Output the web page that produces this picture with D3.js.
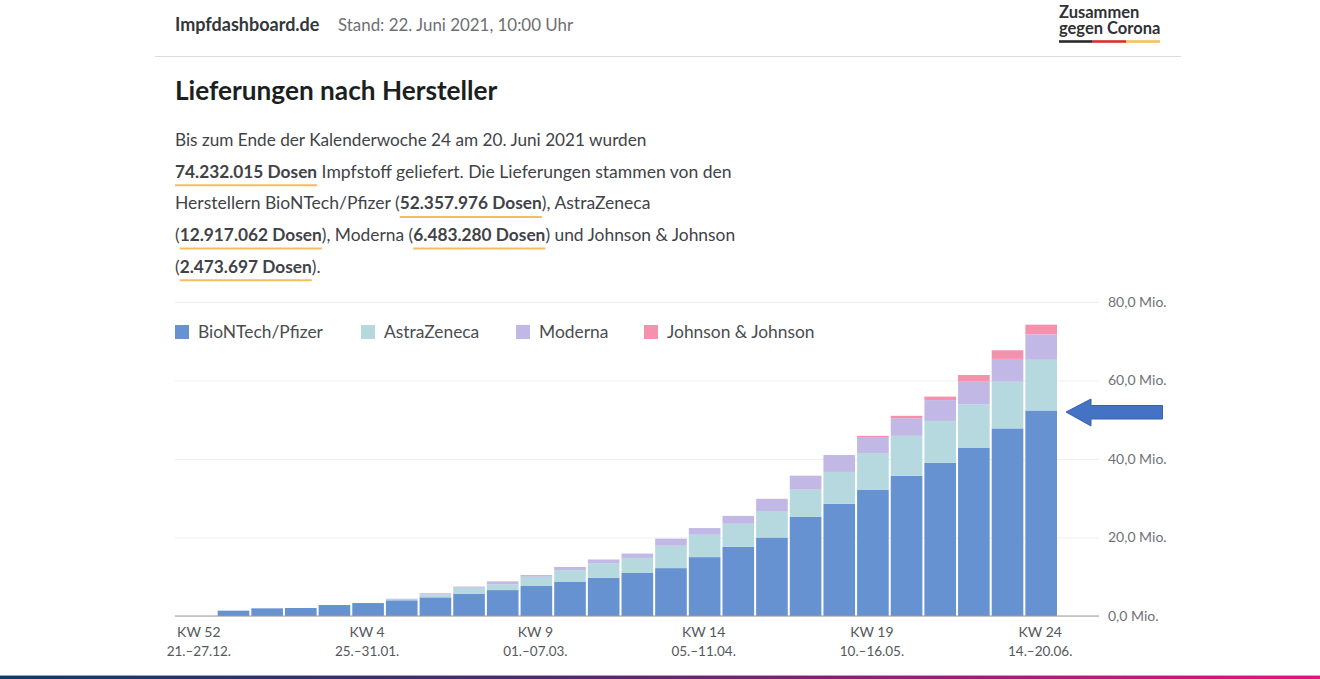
<!DOCTYPE html>
<html lang="de">
<head>
<meta charset="utf-8">
<script src="https://cdn.jsdelivr.net/npm/d3@7"></script>
<style>
  html, body { margin: 0; padding: 0; background: #fff; }
  svg { display: block; font-family: Lato, "Noto Sans", sans-serif; }
</style>
</head>
<body>
<div id="chart"></div>
<script>
// calendar weeks, KW 52 (2020) to KW 24 (2021)
const weeks = ['KW 52', 'KW 53', 'KW 1', 'KW 2', 'KW 3', 'KW 4', 'KW 5', 'KW 6', 'KW 7', 'KW 8', 'KW 9', 'KW 10', 'KW 11',
  'KW 12', 'KW 13', 'KW 14', 'KW 15', 'KW 16', 'KW 17', 'KW 18', 'KW 19', 'KW 20', 'KW 21', 'KW 22', 'KW 23', 'KW 24'];
const weekLabels = ['KW 52', 'KW 4', 'KW 9', 'KW 14', 'KW 19', 'KW 24'];
const dateLabels = ['21.–27.12.', '25.–31.01.', '01.–07.03.', '05.–11.04.', '10.–16.05.', '14.–20.06.'];

// cumulative doses per manufacturer in Mio.
const biontech = [0, 1.36, 1.95, 2.04, 2.8, 3.3, 4.0, 4.75, 5.7, 6.6, 7.64, 8.66, 9.77, 10.96, 12.2, 15.0, 17.6, 20.0, 25.3, 28.6, 32.1, 35.7, 39.0, 42.9, 47.8, 52.36];
const astra = [0, 0, 0, 0, 0, 0, 0.15, 0.75, 1.5, 1.47, 2.36, 3.04, 3.63, 3.84, 5.7, 5.7, 5.9, 6.75, 6.9, 8.1, 9.4, 10.2, 10.7, 11.0, 11.9, 12.92];
const moderna = [0, 0, 0, 0, 0, 0, 0.25, 0.3, 0.3, 0.76, 0.45, 0.8, 1.0, 1.1, 1.8, 1.7, 2.0, 3.05, 3.5, 4.1, 4.1, 4.5, 5.3, 5.8, 5.8, 6.48];
const johnson = [0, 0, 0, 0, 0, 0, 0, 0, 0, 0, 0, 0, 0, 0, 0, 0, 0, 0.05, 0.05, 0.2, 0.3, 0.6, 0.9, 1.7, 2.2, 2.47];

const seriesNames = ['BioNTech/Pfizer', 'AstraZeneca', 'Moderna', 'Johnson & Johnson'];
const seriesColors = ['#6792d1', '#b5d9df', '#c2b8e5', '#f492ad'];
const yTicks = [0, 20, 40, 60, 80];

// body text, bold runs are underlined
const paragraph = [
  [['Bis zum Ende der Kalenderwoche 24 am 20. Juni 2021 wurden', 0]],
  [['74.232.015 Dosen', 1], [' Impfstoff geliefert. Die Lieferungen stammen von den', 0]],
  [['Herstellern BioNTech/Pfizer (', 0], ['52.357.976 Dosen', 1], ['), AstraZeneca', 0]],
  [['(', 0], ['12.917.062 Dosen', 1], ['), Moderna (', 0], ['6.483.280 Dosen', 1], [') und Johnson & Johnson', 0]],
  [['(', 0], ['2.473.697 Dosen', 1], [').', 0]]
];

const width = 1320;
const height = 679;
const textColor = '#3f4347';
const lineFontSizes = [17.2, 17.55, 17.55, 17.4, 17.4]; // the lines of the source differ slightly in width

const svg = d3.select('#chart').append('svg')
  .attr('width', width)
  .attr('height', height);

// page header
svg.append('text').attr('x', 175).attr('y', 31)
  .attr('font-size', 18).attr('font-weight', 700).attr('fill', '#33373a')
  .text('Impfdashboard.de');
svg.append('text').attr('x', 338).attr('y', 31)
  .attr('font-size', 16.9).attr('fill', '#6d7073')
  .text('Stand: 22. Juni 2021, 10:00 Uhr');
svg.append('line')
  .attr('x1', 155).attr('x2', 1181).attr('y1', 56.5).attr('y2', 56.5)
  .attr('stroke', '#dcdcdc');

// logo
svg.append('text').attr('x', 1059).attr('y', 17.5)
  .attr('font-size', 16.5).attr('font-weight', 700).attr('fill', '#2f3133')
  .text('Zusammen');
svg.append('text').attr('x', 1059).attr('y', 34)
  .attr('font-size', 16.5).attr('font-weight', 700).attr('fill', '#2f3133')
  .text('gegen Corona');
['#2b2b2b', '#d9302c', '#f4c25c'].forEach((c, i) => {
  svg.append('rect')
    .attr('x', 1059 + i * 33.7).attr('y', 40.2)
    .attr('width', 33.7).attr('height', 2.6)
    .attr('fill', c);
});

svg.append('text').attr('x', 175).attr('y', 99.5)
  .attr('font-size', 26.2).attr('font-weight', 700).attr('fill', '#1c1f22')
  .text('Lieferungen nach Hersteller');

// paragraph, every run placed after the last one so the underlines can be measured
paragraph.forEach((line, i) => {
  const y = 146 + i * 31.7;
  let x = 175;
  line.forEach(([str, bold]) => {
    const t = svg.append('text')
      .attr('x', x).attr('y', y)
      .attr('font-size', bold ? 17.3 : lineFontSizes[i])
      .attr('font-weight', bold ? 700 : 400)
      .attr('fill', textColor)
      .style('white-space', 'pre')
      .text(str);
    const w = t.node().getComputedTextLength();
    if (bold) {
      svg.append('line')
        .attr('x1', x).attr('x2', x + w)
        .attr('y1', y + 7.5).attr('y2', y + 7.5)
        .attr('stroke', '#f4bd5e').attr('stroke-width', 2);
    }
    x += w;
  });
});

// chart
const x = d3.scaleBand()
  .domain(weeks)
  .range([183, 1058])
  .paddingInner(0.06)
  .paddingOuter(0.03);

const y = d3.scaleLinear()
  .domain([0, 80])
  .range([616, 302]);

const rows = weeks.map((w, i) => ({
  week: w,
  [seriesNames[0]]: biontech[i],
  [seriesNames[1]]: astra[i],
  [seriesNames[2]]: moderna[i],
  [seriesNames[3]]: johnson[i]
}));

const stacked = d3.stack().keys(seriesNames)(rows);

// grid lines and y labels
const yAxis = svg.append('g')
  .attr('transform', 'translate(175,0)')
  .call(d3.axisRight(y)
    .tickValues(yTicks)
    .tickSize(924)
    .tickPadding(9)
    .tickFormat(d => d.toFixed(1).replace('.', ',') + ' Mio.'));
yAxis.select('.domain').remove();
yAxis.selectAll('line').attr('stroke', '#efefef');
yAxis.selectAll('text')
  .attr('font-size', 14)
  .attr('font-family', 'Lato, "Noto Sans", sans-serif')
  .attr('fill', '#6f7275');

svg.append('g')
  .selectAll('g')
  .data(stacked)
  .join('g')
  .attr('fill', (d, i) => seriesColors[i])
  .selectAll('rect')
  .data(d => d)
  .join('rect')
  .attr('x', d => x(d.data.week))
  .attr('width', x.bandwidth())
  .attr('y', d => y(d[1]))
  .attr('height', d => y(d[0]) - y(d[1]));

// baseline
svg.append('line')
  .attr('x1', 175).attr('x2', 1099)
  .attr('y1', y(0)).attr('y2', y(0))
  .attr('stroke', '#9a9a9a');

// x labels
const xLabels = svg.append('g')
  .selectAll('g')
  .data(weekLabels)
  .join('g')
  .attr('transform', d => `translate(${x(d) + x.bandwidth() / 2 - 1},0)`)
  .attr('text-anchor', 'middle')
  .attr('fill', '#55585b');
xLabels.append('text').attr('y', 637).attr('font-size', 14).text(d => d);
xLabels.append('text').attr('y', 656).attr('font-size', 13.5).text((d, i) => dateLabels[i]);

// legend
const legendSwatchX = [175, 361, 516, 644];
const legend = svg.append('g')
  .selectAll('g')
  .data(seriesNames)
  .join('g')
  .attr('transform', (d, i) => `translate(${legendSwatchX[i]},325)`);
legend.append('rect')
  .attr('width', 14).attr('height', 14)
  .attr('fill', (d, i) => seriesColors[i]);
legend.append('text')
  .attr('x', 23).attr('y', 13)
  .attr('font-size', 17.4)
  .attr('fill', '#4a4d50')
  .text(d => d);

// annotation arrow
svg.append('path')
  .attr('d', 'M1066,412 L1091,399 L1091,405.5 L1162.5,405.5 L1162.5,419 L1091,419 L1091,426 Z')
  .attr('fill', '#4472c4')
  .attr('stroke', '#3a62a8')
  .attr('stroke-width', 1);

// bottom colour strip
const grad = svg.append('defs').append('linearGradient').attr('id', 'strip');
grad.append('stop').attr('offset', '0%').attr('stop-color', '#0e3b66');
grad.append('stop').attr('offset', '45%').attr('stop-color', '#55286f');
grad.append('stop').attr('offset', '100%').attr('stop-color', '#e5127f');
svg.append('rect')
  .attr('x', 0).attr('y', 675)
  .attr('width', width).attr('height', 1)
  .attr('fill', 'url(#strip)')
  .attr('opacity', 0.45);
svg.append('rect')
  .attr('x', 0).attr('y', 676)
  .attr('width', width).attr('height', 3)
  .attr('fill', 'url(#strip)');
</script>
</body>
</html>
